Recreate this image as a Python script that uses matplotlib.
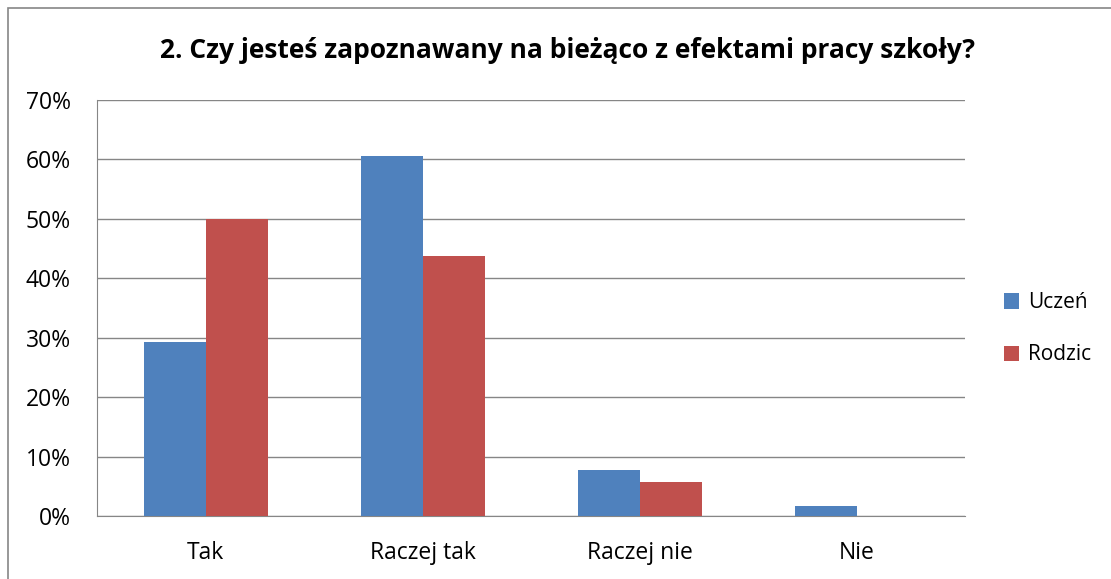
import numpy as np
import matplotlib.pyplot as plt
from matplotlib.patches import Rectangle
from matplotlib.ticker import PercentFormatter

categories = ['Tak', 'Raczej tak', 'Raczej nie', 'Nie']
uczen = [29.2, 60.6, 7.7, 1.7]
rodzic = [50.0, 43.8, 5.7, 0.0]
series_names = ['Uczeń', 'Rodzic']
title = '2. Czy jesteś zapoznawany na bieżąco z efektami pracy szkoły?'

plt.rcParams['font.family'] = ['Open Sans', 'DejaVu Sans']

fig = plt.figure(figsize=(11.11, 5.79), dpi=100)
ax = fig.add_axes([97 / 1111, 1 - 516 / 579, 868 / 1111, 416 / 579])

# chart frame (cropped in the original screenshot)
fig.patches.append(Rectangle((8 / 1111, -0.1), 1.2, 1 - 8 / 579 + 0.1,
                             transform=fig.transFigure, fill=False,
                             edgecolor='#868686', lw=1.2))

x = np.arange(len(categories))
w = 1 / 3.5
ax.bar(x - w / 2, uczen, w, color='#4F81BD', label=series_names[0], zorder=3)
ax.bar(x + w / 2, rodzic, w, color='#C0504D', label=series_names[1], zorder=3)

ax.set_xlim(-0.5, len(categories) - 0.5)
ax.set_ylim(0, 70)
ax.set_yticks(np.arange(0, 71, 10))
ax.yaxis.set_major_formatter(PercentFormatter(decimals=0))
ax.set_xticks(x)
ax.set_xticklabels(categories)
ax.tick_params(length=0, labelsize=16.5, colors='black')
ax.tick_params(axis='y', pad=19)
ax.tick_params(axis='x', pad=18)
ax.grid(axis='y', color='#868686', lw=1, zorder=0)
for s in ['top', 'right']:
    ax.spines[s].set_visible(False)
for s in ['left', 'bottom']:
    ax.spines[s].set_color('#868686')

fig.text(567 / 1111, 1 - 50 / 579, title, ha='center', va='center',
         fontsize=19, fontweight='bold')

ax.legend(loc='center left', bbox_to_anchor=(1.023, 0.45), frameon=False,
          fontsize=15, handlelength=0.75, handleheight=0.75, labelspacing=1.5,
          handletextpad=0.4)

fig.savefig('out.png', dpi=100)
